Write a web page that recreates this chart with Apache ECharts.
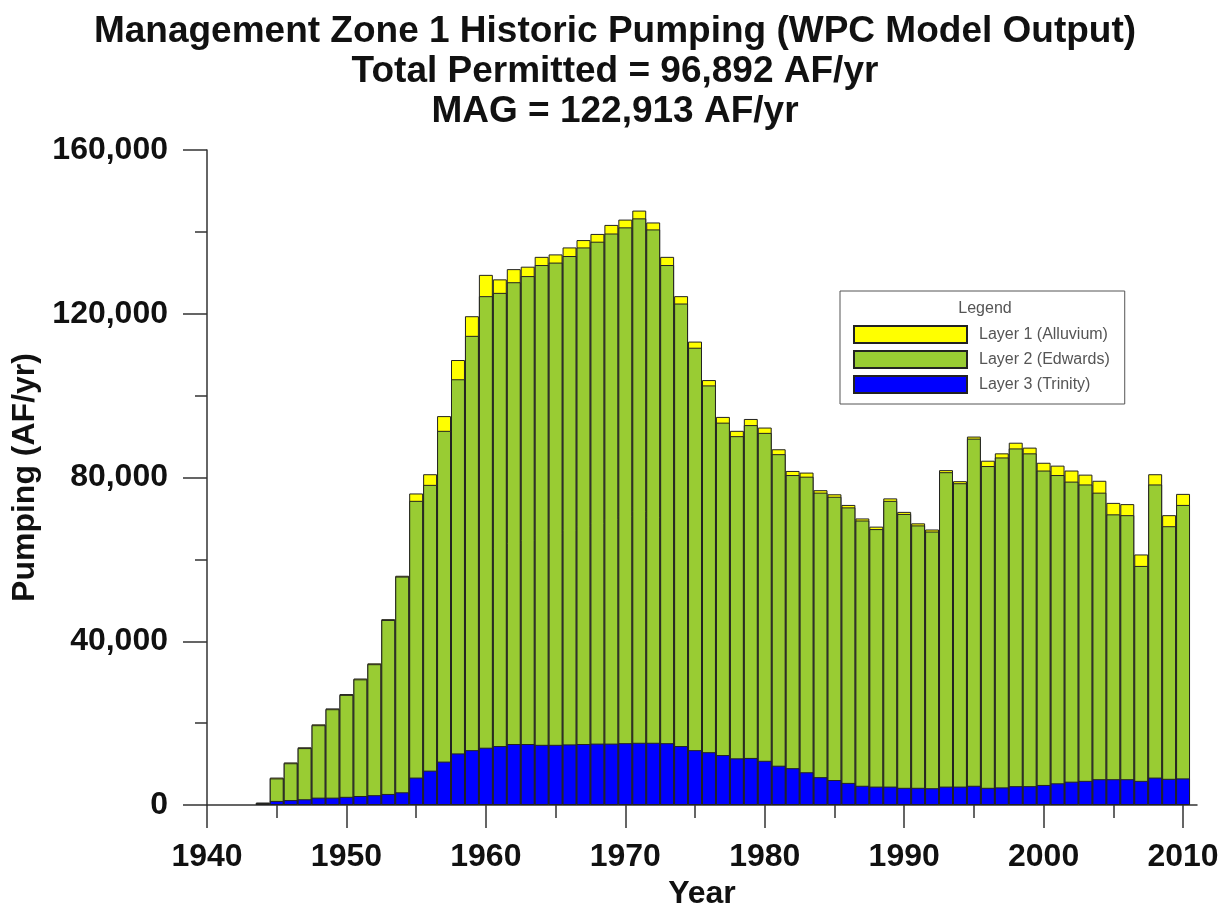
<!DOCTYPE html>
<html>
<head>
<meta charset="utf-8">
<title>Management Zone 1 Historic Pumping</title>
<script src="https://cdn.jsdelivr.net/npm/echarts@6/dist/echarts.min.js"></script>
<style>
  html, body { margin: 0; padding: 0; background: #fff; }
  #chart { width: 1230px; height: 916px; }
</style>
</head>
<body>
<div id="chart"></div>
<script>
const years = [
  1944, 1945, 1946, 1947, 1948, 1949, 1950, 1951, 1952, 1953,
  1954, 1955, 1956, 1957, 1958, 1959, 1960, 1961, 1962, 1963,
  1964, 1965, 1966, 1967, 1968, 1969, 1970, 1971, 1972, 1973,
  1974, 1975, 1976, 1977, 1978, 1979, 1980, 1981, 1982, 1983,
  1984, 1985, 1986, 1987, 1988, 1989, 1990, 1991, 1992, 1993,
  1994, 1995, 1996, 1997, 1998, 1999, 2000, 2001, 2002, 2003,
  2004, 2005, 2006, 2007, 2008, 2009, 2010
];

// AF/yr per layer
const layer3Trinity = [
  300, 1000, 1200, 1400, 1800, 1800, 2000, 2200, 2400, 2700,
  3100, 6700, 8400, 10600, 12600, 13400, 14000, 14400, 14900, 14900,
  14700, 14700, 14800, 14900, 15000, 15000, 15100, 15200, 15200, 15100,
  14400, 13400, 12900, 12200, 11400, 11500, 10800, 9600, 9000, 8000,
  6800, 6100, 5400, 4700, 4500, 4500, 4200, 4200, 4100, 4500,
  4500, 4700, 4200, 4300, 4600, 4600, 4900, 5300, 5700, 5900,
  6300, 6300, 6300, 5900, 6700, 6400, 6500
];
const layer2Edwards = [
  200, 5500, 9000, 12500, 17700, 21600, 24900, 28500, 32000, 42500,
  52700, 67600, 69800, 80800, 91400, 101200, 110300, 110700, 112800, 114300,
  117200, 117800, 119300, 121300, 122600, 124600, 126000, 128100, 125400, 116800,
  108100, 98300, 89600, 81200, 78700, 81300, 80100, 76100, 71600, 72200,
  69500, 69200, 67300, 64800, 62900, 69800, 66900, 64100, 62700, 76800,
  74100, 84800, 78600, 80600, 82500, 81300, 76800, 75300, 73300, 72400,
  70000, 64700, 64500, 52500, 71600, 61700, 66800
];
const layer1Alluvium = [
  100, 200, 200, 200, 200, 200, 200, 200, 200, 200,
  200, 1800, 2600, 3600, 4700, 4800, 5200, 3300, 3200, 2300,
  2000, 2000, 2100, 1800, 1900, 2100, 1900, 1900, 1700, 2000,
  1800, 1500, 1300, 1400, 1300, 1500, 1300, 1200, 1000, 1000,
  600, 600, 600, 500, 600, 600, 500, 500, 500, 500,
  500, 500, 1300, 1000, 1400, 1400, 1900, 2300, 2700, 2400,
  2900, 2800, 2700, 2800, 2500, 2700, 2700
];

const yearLabels = [1940, 1950, 1960, 1970, 1980, 1990, 2000, 2010];
const minorYearTicks = [1945, 1955, 1965, 1975, 1985, 1995, 2005];

const seriesNames = ['Layer 1 (Alluvium)', 'Layer 2 (Edwards)', 'Layer 3 (Trinity)'];

const font = "'Liberation Sans', Arial, sans-serif";
const axisColor = '#333';
const tickStyle = { color: axisColor, width: 1.5 };

// stacking on a value x axis does not add up, so each layer is drawn
// from 0 to its running total and the lower layers are painted over it
const topOfLayer3 = layer3Trinity;
const topOfLayer2 = layer3Trinity.map((v, i) => v + layer2Edwards[i]);
const topOfLayer1 = topOfLayer2.map((v, i) => v + layer1Alluvium[i]);

const chart = echarts.init(document.getElementById('chart'));

function layerSeries(name, tops, color) {
  return {
    name: name,
    type: 'bar',
    barWidth: '100%',
    barGap: '-100%',
    data: years.map((y, i) => [y, tops[i]]),
    itemStyle: { color: color, borderColor: '#222', borderWidth: 1 }
  };
}

chart.setOption({
  animation: false,
  backgroundColor: '#fff',
  textStyle: { fontFamily: font },
  title: {
    text: 'Management Zone 1 Historic Pumping (WPC Model Output)\nTotal Permitted = 96,892 AF/yr\nMAG = 122,913 AF/yr',
    left: 'center',
    top: 7,
    textStyle: { fontFamily: font, fontSize: 37, fontWeight: 'bold', lineHeight: 40, color: '#111' }
  },
  grid: { left: 207, right: 33, top: 150, bottom: 111, containLabel: false, outerBoundsMode: 'none' },
  legend: {
    orient: 'vertical',
    left: 840,
    top: 291,
    data: seriesNames,
    icon: 'rect',
    itemWidth: 113,
    itemHeight: 17,
    itemGap: 6,
    padding: [34, 15, 10, 13],
    borderColor: '#555',
    borderWidth: 1,
    selectedMode: false,
    textStyle: { fontFamily: font, fontSize: 16, color: '#555', padding: [0, 0, 0, 7] }
  },
  graphic: [{
    type: 'text',
    x: 985,
    y: 301,
    style: { text: 'Legend', fontFamily: font, fontSize: 16, fill: '#555', textAlign: 'center' }
  }],
  xAxis: [{
    type: 'value',
    min: 1940,
    max: 2011,
    interval: 10,
    name: 'Year',
    nameLocation: 'middle',
    nameGap: 67,
    nameTextStyle: { fontFamily: font, fontSize: 32, fontWeight: 'bold', color: '#111' },
    axisLine: { show: true, onZero: false, lineStyle: tickStyle },
    axisTick: { show: true, length: 23, customValues: yearLabels, lineStyle: tickStyle },
    axisLabel: {
      customValues: yearLabels,
      margin: 36,
      fontFamily: font, fontSize: 32, fontWeight: 'bold', color: '#111',
      formatter: v => String(v)
    },
    splitLine: { show: false }
  }, {
    type: 'value',
    min: 1940,
    max: 2011,
    position: 'bottom',
    axisLine: { show: false, onZero: false },
    axisTick: { show: true, length: 13, customValues: minorYearTicks, lineStyle: tickStyle },
    axisLabel: { show: false },
    splitLine: { show: false }
  }],
  yAxis: {
    type: 'value',
    min: 0,
    max: 160000,
    interval: 40000,
    name: 'Pumping (AF/yr)',
    nameLocation: 'middle',
    nameGap: 165,
    nameTextStyle: { fontFamily: font, fontSize: 32, fontWeight: 'bold', color: '#111' },
    axisLine: { show: true, lineStyle: tickStyle },
    axisTick: { show: true, length: 24, lineStyle: tickStyle },
    minorTick: { show: true, splitNumber: 2, length: 12, lineStyle: tickStyle },
    axisLabel: {
      margin: 39,
      fontFamily: font, fontSize: 32, fontWeight: 'bold', color: '#111',
      formatter: v => v.toLocaleString('en-US')
    },
    splitLine: { show: false }
  },
  // painted back to front: total (yellow), then Edwards, then Trinity
  series: [
    layerSeries(seriesNames[0], topOfLayer1, '#FFFF00'),
    layerSeries(seriesNames[1], topOfLayer2, '#99CC33'),
    layerSeries(seriesNames[2], topOfLayer3, '#0000FF')
  ]
});
</script>
</body>
</html>
